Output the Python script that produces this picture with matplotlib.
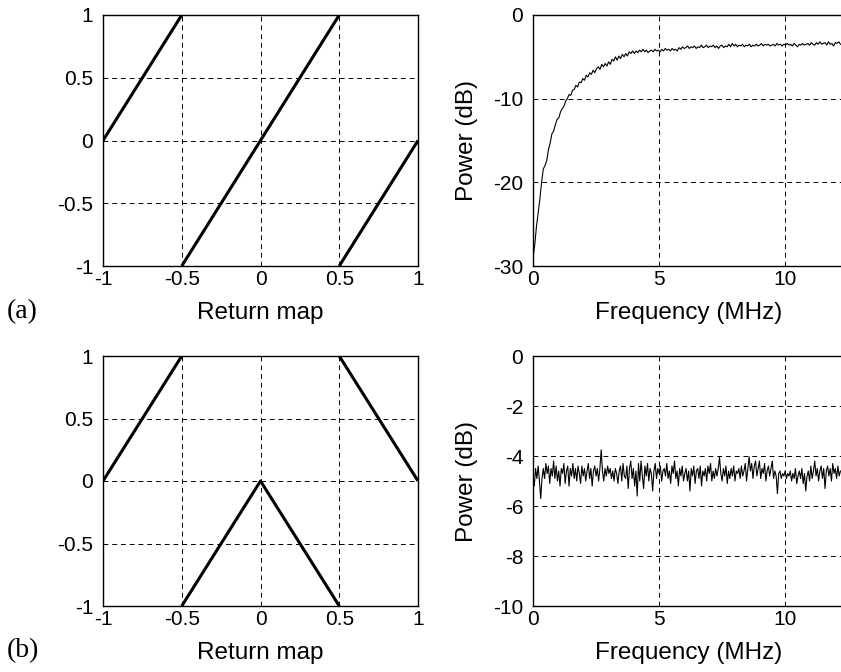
import numpy as np
import matplotlib
matplotlib.use("Agg")
import matplotlib.pyplot as plt

# ---- Return map data (segments) ----
map_a_x = [[-1, -0.5], [-0.5, 0.5], [0.5, 1]]
map_a_y = [[0, 1], [-1, 1], [-1, 0]]
map_b_x = [[-1, -0.5], [-0.5, 0, 0.5], [0.5, 1]]
map_b_y = [[0, 1], [-1, 0, -1], [1, 0]]
map_ticks = [-1, -0.5, 0, 0.5, 1]
map_ticklabels = ["-1", "-0.5", "0", "0.5", "1"]

# ---- Spectrum (a) in dB, evenly spaced from 0 to 12.2 MHz ----
spec_a = [
    -29.0, -27.5, -25.3, -23.6, -22.0, -20.0, -18.4, -18.0, -17.4, -16.1,
    -15.3, -14.2, -13.9, -13.1, -12.5, -12.3, -11.6, -11.2, -10.9, -10.3,
    -10.0, -9.5, -9.6, -9.0, -8.9, -8.4, -8.6, -8.0, -8.1, -7.6,
    -7.8, -7.2, -7.4, -6.9, -7.1, -6.6, -6.9, -6.4, -6.2, -6.5,
    -5.9, -6.2, -5.8, -6.1, -5.6, -5.9, -5.3, -5.5, -5.0, -5.4,
    -4.9, -5.2, -4.7, -5.0, -4.6, -4.9, -4.4, -4.6, -4.3, -4.6,
    -4.3, -4.5, -4.2, -4.4, -4.1, -4.4, -4.2, -4.5, -4.3, -4.2,
    -4.4, -4.1, -4.3, -4.2, -4.4, -4.1, -4.3, -4.0, -4.2, -4.1,
    -4.3, -4.0, -4.2, -4.1, -4.3, -3.9, -4.1, -3.8, -4.0, -3.9,
    -3.7, -4.0, -3.8, -3.9, -3.7, -4.0, -3.8, -3.9, -3.6, -3.9,
    -3.8, -3.6, -3.9, -3.7, -3.8, -3.6, -3.9, -3.7, -4.0, -3.7,
    -3.6, -3.9, -3.7, -3.8, -3.5, -3.8, -3.4, -3.7, -3.5, -3.8,
    -3.6, -3.7, -3.5, -3.8, -3.6, -3.7, -3.5, -3.8, -3.6, -3.7,
    -3.5, -3.7, -3.6, -3.4, -3.7, -3.5, -3.6, -3.5, -3.7, -3.6,
    -3.5, -3.7, -3.4, -3.6, -3.5, -3.7, -3.5, -3.6, -3.4, -3.6,
    -3.5, -3.7, -3.4, -3.6, -3.8, -3.5, -3.6, -3.4, -3.6, -3.5,
    -3.4, -3.6, -3.3, -3.5, -3.6, -3.3, -3.5, -3.2, -3.5, -3.4,
    -3.3, -3.6, -3.2, -3.5, -3.4, -3.7, -3.3, -3.4, -3.2, -3.5,
]

# ---- Spectrum (b) in dB, evenly spaced from 0 to 12.2 MHz ----
spec_b = [
    -4.8, -5.2, -4.5, -4.9, -4.4, -5.0, -5.7, -4.9,
    -4.5, -4.9, -4.3, -4.7, -4.4, -5.1, -4.5, -4.8,
    -4.2, -4.9, -4.4, -5.0, -4.6, -5.2, -4.5, -4.7,
    -4.3, -5.1, -4.6, -4.4, -5.2, -4.5, -4.8, -4.3,
    -4.9, -4.5, -5.0, -4.4, -4.7, -5.1, -4.4, -4.8,
    -4.5, -5.0, -4.6, -4.3, -4.9, -4.5, -5.2, -4.6,
    -4.4, -4.8, -4.5, -5.0, -4.5, -3.75, -4.6, -5.0,
    -4.5, -4.8, -4.4, -4.7, -4.5, -4.9, -4.6, -5.0,
    -4.5, -4.7, -5.1, -4.6, -4.4, -5.0, -4.3, -4.8,
    -4.9, -4.4, -5.3, -4.5, -4.2, -4.9, -4.5, -5.2,
    -4.6, -5.6, -4.3, -5.0, -4.2, -4.8, -5.3, -4.4,
    -4.8, -4.3, -5.0, -4.5, -4.7, -5.4, -4.6, -4.3,
    -4.9, -4.5, -4.7, -4.4, -5.0, -4.6, -4.5, -4.8,
    -4.3, -4.9, -4.6, -5.1, -4.4, -4.7, -4.2, -4.9,
    -4.6, -5.2, -4.5, -4.8, -4.4, -5.0, -4.7, -4.5,
    -5.0, -4.6, -5.4, -4.5, -4.8, -4.4, -5.1, -4.6,
    -4.5, -4.9, -4.4, -5.2, -4.6, -4.8, -4.5, -5.0,
    -4.4, -4.7, -4.3, -5.0, -4.6, -4.9, -4.5, -4.8,
    -4.5, -4.05, -4.7, -5.0, -4.5, -4.8, -4.4, -5.1,
    -4.6, -4.9, -4.5, -4.8, -4.4, -5.0, -4.6, -4.7,
    -4.5, -4.9, -4.4, -4.8, -4.6, -4.3, -5.0, -4.5,
    -4.03, -4.6, -4.3, -4.9, -4.4, -4.2, -4.8, -4.5,
    -4.2, -4.9, -4.5, -4.7, -4.3, -5.0, -4.6, -4.4,
    -4.8, -4.5, -4.2, -4.9, -4.6, -4.8, -5.5, -4.7,
    -4.6, -4.9, -4.7, -4.8, -4.6, -4.9, -4.7, -4.8,
    -4.6, -5.0, -4.7, -4.9, -4.5, -5.1, -4.8, -4.6,
    -4.9, -4.5, -5.1, -4.7, -5.4, -4.8, -4.6, -5.0,
    -4.4, -4.9, -4.6, -4.2, -4.8, -4.5, -5.0, -4.6,
    -4.4, -4.9, -4.5, -5.3, -4.6, -4.4, -4.8, -4.5,
    -5.0, -4.3, -4.7, -4.5, -4.9, -4.4, -4.8, -4.6,
]
freq_max = 12.2
freq_ticks = [0, 5, 10]
spec_a_yticks = [-30, -20, -10, 0]
spec_b_yticks = [-10, -8, -6, -4, -2, 0]

sans = ["Liberation Sans", "DejaVu Sans"]
serif = ["Liberation Serif", "DejaVu Serif"]
plt.rcParams["font.family"] = sans
plt.rcParams["axes.unicode_minus"] = False
TICK_FS = 15
LABEL_FS = 17.5

W, H = 841, 672
fig = plt.figure(figsize=(W / 100, H / 100), dpi=100)


def px_axes(x0, y0, x1, y1):
    return fig.add_axes([x0 / W, 1 - y1 / H, (x1 - x0) / W, (y1 - y0) / H])


def style(ax):
    ax.grid(True, color="black", linestyle=(0, (5, 4)), linewidth=0.7)
    ax.set_axisbelow(True)
    ax.tick_params(length=0, labelsize=TICK_FS)
    ax.tick_params(axis="x", pad=3)
    ax.tick_params(axis="y", pad=7)
    for s in ax.spines.values():
        s.set_linewidth(1.0)
        s.set_color("black")


def map_axes(ax, xs, ys):
    for x, y in zip(xs, ys):
        ax.plot(x, y, color="black", linewidth=2.2, solid_capstyle="butt")
    ax.set_xlim(-1, 1)
    ax.set_ylim(-1, 1)
    ax.set_xticks(map_ticks)
    ax.set_xticklabels(map_ticklabels)
    ax.set_yticks(map_ticks)
    ax.set_yticklabels(map_ticklabels)
    style(ax)
    ax.set_xlabel("Return map", fontsize=LABEL_FS, labelpad=9)


def spec_axes(ax, vals, yticks):
    f = np.linspace(0, freq_max, len(vals))
    ax.plot(f, vals, color="black", linewidth=0.8)
    ax.set_xlim(0, 12.38)
    ax.set_ylim(yticks[0], yticks[-1])
    ax.set_xticks(freq_ticks)
    ax.set_yticks(yticks)
    style(ax)
    ax.spines["right"].set_visible(False)
    ax.set_xlabel("Frequency (MHz)", fontsize=LABEL_FS, labelpad=9)
    ax.set_ylabel("Power (dB)", fontsize=LABEL_FS, labelpad=11)


ax1 = px_axes(103, 15, 418, 266)
map_axes(ax1, map_a_x, map_a_y)
ax2 = px_axes(533, 15, 845, 266)
spec_axes(ax2, spec_a, spec_a_yticks)
ax3 = px_axes(103, 356, 418, 606)
map_axes(ax3, map_b_x, map_b_y)
ax4 = px_axes(533, 356, 845, 606)
spec_axes(ax4, spec_b, spec_b_yticks)

fig.text(7 / W, 1 - 312 / H, "(a)", family=serif, fontsize=20, va="center")
fig.text(7 / W, 1 - 651 / H, "(b)", family=serif, fontsize=20, va="center")

fig.savefig("out.png", dpi=100)
